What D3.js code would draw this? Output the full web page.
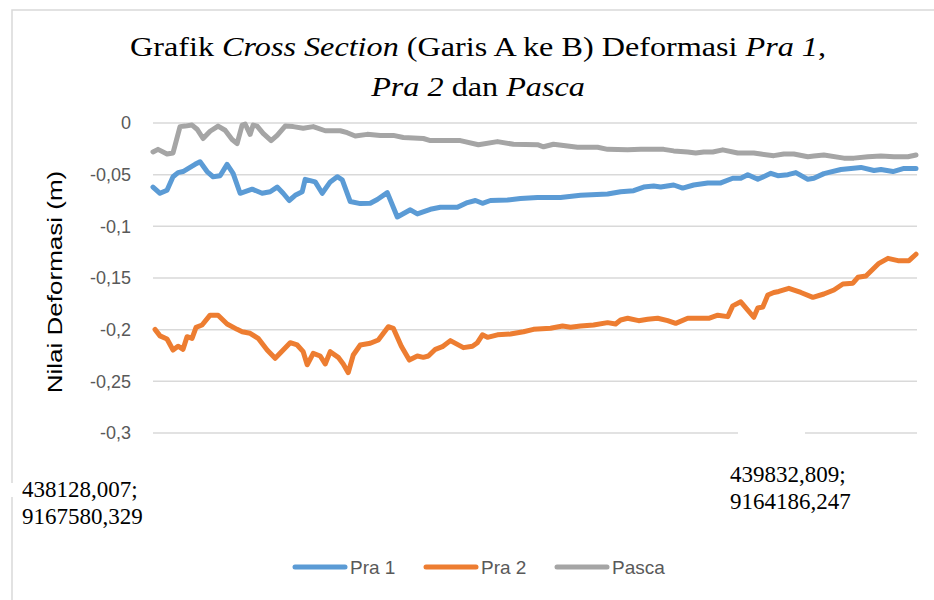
<!DOCTYPE html>
<html>
<head>
<meta charset="utf-8">
<script src="https://cdn.jsdelivr.net/npm/d3@7"></script>
<style>
  body { margin: 0; background: #fff; }
  svg { display: block; }
</style>
</head>
<body>
<div id="chart"></div>
<script>
// svg dimensions
var svgWidth = 934;
var svgHeight = 600;
// plot area (gridline span)
var plot = { left: 153, right: 917, top: 123, bottom: 433 };

// tick values of the y axis
var yTicks = [0, -0.05, -0.1, -0.15, -0.2, -0.25, -0.3];
// end labels of the cross section (coordinates A and B)
var startLabel = ["438128,007;", "9167580,329"];
var endLabel = ["439832,809;", "9164186,247"];
// distance along section A-B (m)
var sectionLength = 3815;

// Pra 1 : [jarak (m), deformasi (m)]
var pra1 = [
  [0, -0.062], [35, -0.068], [70, -0.065], [100, -0.052], [125, -0.048], [150, -0.047],
  [185, -0.043], [210, -0.040], [235, -0.0375], [270, -0.047], [300, -0.052], [335, -0.051],
  [370, -0.040], [400, -0.0487], [435, -0.068], [495, -0.064], [545, -0.068], [585, -0.0665],
  [620, -0.062], [650, -0.068], [680, -0.075], [710, -0.070], [745, -0.0665], [760, -0.0545],
  [810, -0.057], [845, -0.068], [885, -0.057], [920, -0.052], [945, -0.055], [985, -0.076],
  [1035, -0.078], [1085, -0.0777], [1120, -0.074], [1170, -0.0674], [1220, -0.091], [1285, -0.084],
  [1320, -0.088], [1385, -0.0835], [1435, -0.0816], [1520, -0.0816], [1570, -0.077], [1610, -0.075],
  [1645, -0.0777], [1685, -0.075], [1770, -0.0745], [1835, -0.073], [1920, -0.072], [2035, -0.072],
  [2135, -0.070], [2270, -0.0687], [2335, -0.0665], [2400, -0.0655], [2450, -0.062], [2500, -0.061],
  [2535, -0.062], [2600, -0.060], [2645, -0.063], [2700, -0.060], [2770, -0.058], [2835, -0.058],
  [2895, -0.0535], [2935, -0.0535], [2970, -0.050], [3020, -0.0545], [3085, -0.0487], [3120, -0.051],
  [3170, -0.050], [3210, -0.048], [3270, -0.0545], [3300, -0.0535], [3350, -0.049], [3435, -0.045],
  [3485, -0.044], [3535, -0.043], [3600, -0.046], [3635, -0.045], [3695, -0.047], [3750, -0.044],
  [3810, -0.044]
];

// Pra 2
var pra2 = [
  [10, -0.1997], [35, -0.206], [70, -0.209], [100, -0.2197], [125, -0.216], [150, -0.219],
  [170, -0.2068], [195, -0.2084], [215, -0.1977], [245, -0.1955], [285, -0.186], [325, -0.186],
  [370, -0.1945], [420, -0.1997], [445, -0.202], [485, -0.2035], [525, -0.2084], [570, -0.2197],
  [610, -0.2277], [650, -0.2197], [685, -0.2126], [720, -0.2148], [750, -0.2213], [770, -0.234],
  [800, -0.2229], [835, -0.2255], [860, -0.2332], [885, -0.2213], [925, -0.2268], [950, -0.2332],
  [975, -0.2416], [1000, -0.2245], [1035, -0.2148], [1085, -0.2132], [1125, -0.210], [1175, -0.1971],
  [1200, -0.1987], [1240, -0.216], [1280, -0.2294], [1320, -0.2255], [1350, -0.2268], [1375, -0.2255],
  [1410, -0.219], [1445, -0.2165], [1485, -0.2106], [1550, -0.2174], [1595, -0.216], [1620, -0.2126],
  [1645, -0.205], [1670, -0.2074], [1720, -0.205], [1785, -0.2042], [1850, -0.202], [1900, -0.1997],
  [1985, -0.1987], [2045, -0.1965], [2085, -0.1977], [2135, -0.1965], [2200, -0.1955], [2270, -0.1932],
  [2310, -0.1945], [2335, -0.1906], [2370, -0.189], [2425, -0.1913], [2470, -0.190], [2520, -0.189],
  [2570, -0.1913], [2610, -0.1939], [2670, -0.189], [2725, -0.189], [2775, -0.189], [2820, -0.186],
  [2870, -0.1874], [2895, -0.177], [2935, -0.173], [2970, -0.181], [3000, -0.188], [3020, -0.179],
  [3045, -0.178], [3070, -0.1665], [3100, -0.164], [3125, -0.163], [3175, -0.160], [3235, -0.164],
  [3295, -0.1687], [3350, -0.1655], [3400, -0.1616], [3445, -0.1558], [3495, -0.155], [3520, -0.1493],
  [3560, -0.148], [3625, -0.1358], [3670, -0.131], [3720, -0.1332], [3775, -0.1332], [3810, -0.127]
];

// Pasca
var pasca = [
  [0, -0.028], [25, -0.0255], [70, -0.030], [100, -0.029], [135, -0.0035], [160, -0.003],
  [195, -0.002], [220, -0.006], [250, -0.015], [285, -0.008], [325, -0.003], [360, -0.007],
  [395, -0.016], [420, -0.020], [445, -0.002], [460, -0.001], [485, -0.011], [500, -0.002],
  [520, -0.003], [550, -0.010], [590, -0.017], [620, -0.012], [660, -0.003], [700, -0.0035],
  [750, -0.005], [800, -0.0035], [860, -0.0075], [935, -0.0075], [970, -0.0094], [1010, -0.0126],
  [1070, -0.011], [1135, -0.012], [1200, -0.012], [1250, -0.014], [1350, -0.015], [1385, -0.017],
  [1535, -0.017], [1625, -0.021], [1720, -0.018], [1800, -0.0206], [1920, -0.021], [1950, -0.023],
  [2000, -0.0206], [2120, -0.0235], [2220, -0.0235], [2270, -0.0255], [2370, -0.026], [2435, -0.0255],
  [2550, -0.0255], [2600, -0.027], [2670, -0.028], [2710, -0.029], [2750, -0.028], [2795, -0.028],
  [2845, -0.026], [2920, -0.029], [3000, -0.029], [3035, -0.030], [3100, -0.0316], [3150, -0.030],
  [3200, -0.030], [3270, -0.0326], [3300, -0.032], [3350, -0.031], [3450, -0.034], [3500, -0.034],
  [3570, -0.0326], [3635, -0.032], [3700, -0.0326], [3770, -0.0326], [3810, -0.031]
];

var seriesNames = ["Pra 1", "Pra 2", "Pasca"];
var seriesData = [pra1, pra2, pasca];
var seriesColors = ["#5B9BD5", "#ED7D31", "#A5A5A5"];

var sans = "'Liberation Sans', Arial, sans-serif";
var serif = "'Liberation Serif', 'Times New Roman', serif";

// Create an SVG wrapper
var svg = d3.select("#chart")
  .append("svg")
  .attr("width", svgWidth)
  .attr("height", svgHeight);

// chart border (only left/top visible in the picture)
svg.append("rect")
  .attr("x", 12).attr("y", 10)
  .attr("width", 1000).attr("height", 700)
  .attr("fill", "none")
  .attr("stroke", "#d9d9d9")
  .attr("stroke-width", 1.5);

// scales
var xScale = d3.scaleLinear()
  .domain([0, sectionLength])
  .range([plot.left, plot.right]);
var yScale = d3.scaleLinear()
  .domain([-0.3, 0])
  .range([plot.bottom, plot.top]);

// gridlines
svg.append("g")
  .selectAll("line")
  .data(yTicks)
  .enter()
  .append("line")
  .attr("x1", plot.left)
  .attr("x2", plot.right)
  .attr("y1", d => yScale(d))
  .attr("y2", d => yScale(d))
  .attr("stroke", "#d9d9d9")
  .attr("stroke-width", 1.5);

// y axis labels
var yAxis = d3.axisLeft(yScale)
  .tickValues(yTicks)
  .tickSize(0)
  .tickPadding(0)
  .tickFormat(d => d === 0 ? "0" : String(d).replace(".", ","));
var yAxisG = svg.append("g")
  .attr("transform", `translate(${plot.left - 22}, 0)`)
  .call(yAxis);
yAxisG.select(".domain").remove();
yAxisG.selectAll("text")
  .attr("font-family", sans)
  .attr("font-size", 18)
  .attr("fill", "#595959");

// lines
var line = d3.line()
  .x(d => xScale(d[0]))
  .y(d => yScale(d[1]));

svg.append("g")
  .selectAll("path")
  .data(seriesData)
  .enter()
  .append("path")
  .attr("d", line)
  .attr("fill", "none")
  .attr("stroke", (d, i) => seriesColors[i])
  .attr("stroke-width", 5)
  .attr("stroke-linejoin", "round")
  .attr("stroke-linecap", "round");

// y axis title
svg.append("text")
  .attr("transform", "translate(62, 282) rotate(-90) scale(1.3, 1)")
  .attr("text-anchor", "middle")
  .attr("font-family", sans)
  .attr("font-size", 20)
  .attr("fill", "#000")
  .text("Nilai Deformasi (m)");

// title (stretched horizontally like the picture)
var title = svg.append("text")
  .attr("transform", "translate(478, 0) scale(1.15, 1)")
  .attr("text-anchor", "middle")
  .attr("font-family", serif)
  .attr("font-size", 28)
  .attr("fill", "#000");
var title1 = [["Grafik ", false], ["Cross Section", true], [" (Garis A ke B) Deformasi ", false], ["Pra 1", true], [",", false]];
var title2 = [["Pra 2", true], [" dan ", false], ["Pasca", true]];
var t1 = title.append("tspan").attr("x", 0).attr("y", 56);
title1.forEach(p => t1.append("tspan").attr("font-style", p[1] ? "italic" : "normal").text(p[0]));
var t2 = title.append("tspan").attr("x", 0).attr("y", 96);
title2.forEach(p => t2.append("tspan").attr("font-style", p[1] ? "italic" : "normal").text(p[0]));

// end-point category labels (white boxes hide the grid/border behind them)
svg.append("rect").attr("x", 5).attr("y", 483).attr("width", 14).attr("height", 14).attr("fill", "#fff");
svg.append("rect").attr("x", 738).attr("y", 427).attr("width", 67).attr("height", 12).attr("fill", "#fff");

var startText = svg.append("text")
  .attr("font-family", serif)
  .attr("font-size", 23)
  .attr("fill", "#000");
startLabel.forEach((s, i) => startText.append("tspan").attr("x", 22).attr("y", 497 + i * 27).text(s));

var endText = svg.append("text")
  .attr("font-family", serif)
  .attr("font-size", 23)
  .attr("fill", "#000");
endLabel.forEach((s, i) => endText.append("tspan").attr("x", 730).attr("y", 482 + i * 27).text(s));

// legend
var legend = svg.append("g")
  .selectAll("g")
  .data(seriesNames)
  .enter()
  .append("g")
  .attr("transform", (d, i) => `translate(${295 + i * 131}, 567)`);
legend.append("line")
  .attr("x1", 0).attr("x2", 50)
  .attr("stroke", (d, i) => seriesColors[i])
  .attr("stroke-width", 5)
  .attr("stroke-linecap", "round");
legend.append("text")
  .attr("x", 55)
  .attr("dy", "0.35em")
  .attr("font-family", sans)
  .attr("font-size", 19)
  .attr("fill", "#595959")
  .text(d => d);
</script>
</body>
</html>
